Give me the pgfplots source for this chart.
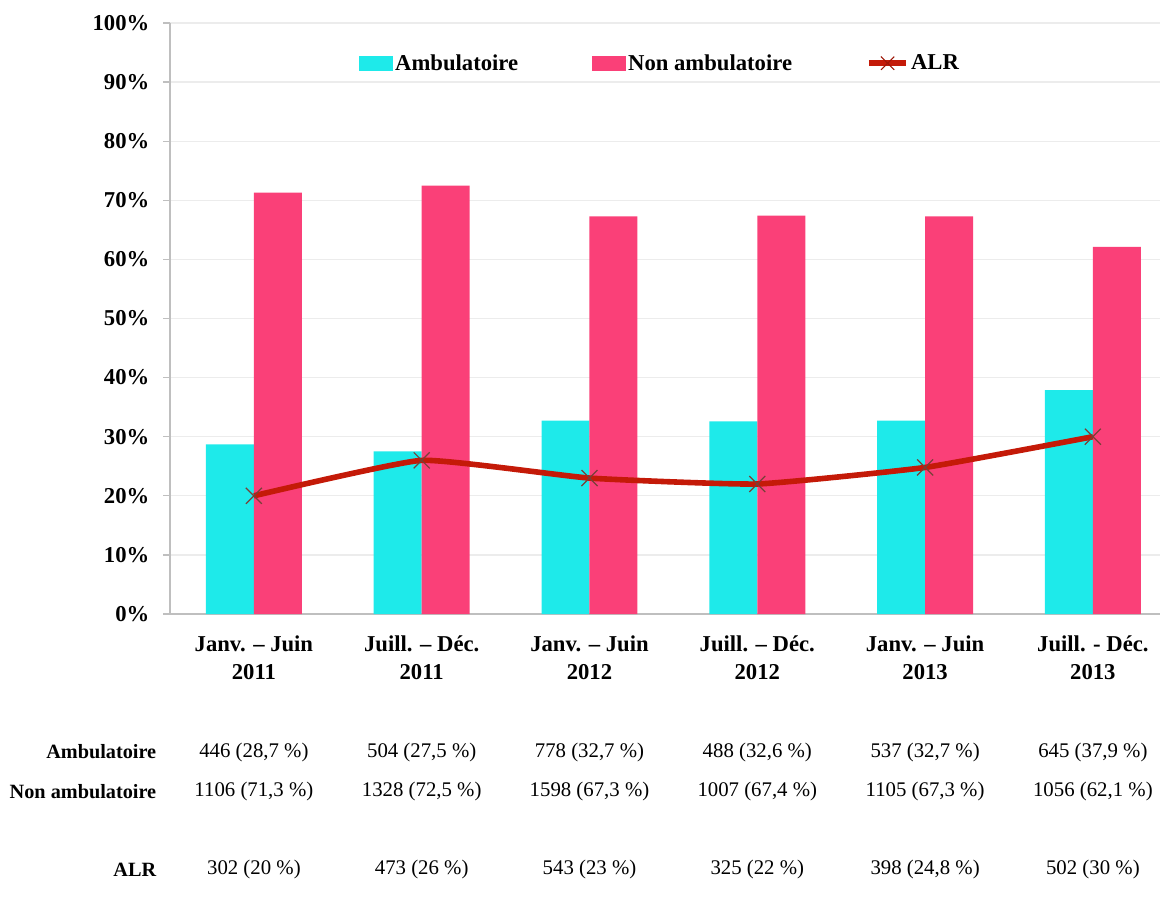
\documentclass[border=0pt]{standalone}
\usepackage{pgfplots}
\pgfplotsset{compat=1.18}
\usepackage{pgfplotstable}
\usepackage{fontspec}
\setmainfont{Liberation Serif}
\usetikzlibrary{calc}
\definecolor{ambu}{RGB}{30,234,234}
\definecolor{nonambu}{RGB}{250,64,120}
\definecolor{alrred}{RGB}{196,26,8}
\definecolor{markgray}{RGB}{120,64,56}
\definecolor{axisgray}{RGB}{191,191,191}
\definecolor{gridgray}{RGB}{236,236,236}
\newcommand\fbig{\bfseries\fontsize{17}{20.5}\selectfont}
\newcommand\frow{\bfseries\fontsize{15.2}{18}\selectfont}
\newcommand\fval{\fontsize{15.6}{18}\selectfont}
\pgfplotstableread{
x ambu non alr
0 28.7 71.3 20
1 27.5 72.5 26
2 32.7 67.3 23
3 32.6 67.4 22
4 32.7 67.3 24.8
5 37.9 62.1 30
}\data
\begin{document}
\begin{tikzpicture}
\begin{axis}[
  scale only axis, width=742.5pt, height=443.25pt,
  xmin=-0.5, xmax=5.4, ymin=0, ymax=100,
  axis lines*=left,
  axis line style={draw=axisgray, line width=1.2pt},
  xtick={0,...,5},
  xticklabels={{Janv. – Juin\\2011},{Juill. – Déc.\\2011},{Janv. – Juin\\2012},{Juill. – Déc.\\2012},{Janv. – Juin\\2013},{Juill. - Déc.\\2013}},
  xtick style={draw=none},
  xticklabel style={font=\fbig, align=center, yshift=-8pt},
  ytick={0,10,...,100},
  ytick style={draw=axisgray, line width=1pt},
  tick align=outside, major tick length=5pt,
  ymajorgrids, grid style={draw=gridgray, line width=1pt},
  /pgf/number format/assume math mode=true,
  yticklabel={\pgfmathprintnumber{\tick}\%},
  yticklabel style={font=\fbig, xshift=-7pt},
  clip=false,
  legend columns=3,
  legend style={at={(rel axis cs:0.495,0.932)}, anchor=center, draw=none, fill=none,
    font=\fbig, /tikz/every even column/.append style={column sep=54pt},
    nodes={inner xsep=1.5pt},
    inner sep=0pt},
  legend cell align=left,
]
\addplot[ybar, bar width=0.286, bar shift=-0.143, fill=ambu, draw=none,
  legend image code/.code={\fill[ambu] (0pt,-5.6pt) rectangle (25.5pt,5.6pt);}]
  table[x=x, y=ambu]{\data};
\addlegendentry{Ambulatoire}
\addplot[ybar, bar width=0.286, bar shift=0.143, fill=nonambu, draw=none,
  legend image code/.code={\fill[nonambu] (0pt,-5.6pt) rectangle (25.5pt,5.6pt);}]
  table[x=x, y=non]{\data};
\addlegendentry{Non ambulatoire}
\addplot[smooth, tension=0.25, color=alrred, line width=4.2pt, mark=x,
  mark size=8.5pt, mark options={draw=markgray, line width=0.9pt},
  legend image code/.code={\draw[color=alrred, line width=4.2pt] (0pt,0pt) -- (28pt,0pt);
    \draw[draw=alrred!80!black, line width=0.8pt] (9pt,-5pt) -- (19pt,5pt) (9pt,5pt) -- (19pt,-5pt);}]
  table[x=x, y=alr]{\data};
\addlegendentry{ALR}
\coordinate (O) at (rel axis cs:0,0);
% table below the chart
\node[anchor=east, font=\frow] at (axis cs:-0.554,-23.35) {Ambulatoire};
\node[anchor=east, font=\frow] at (axis cs:-0.554,-30.1) {Non ambulatoire};
\node[anchor=east, font=\frow] at (axis cs:-0.554,-43.3) {ALR};
\node[font=\fval] at (axis cs:0,-23.35) {446 (28,7 \%)};
\node[font=\fval] at (axis cs:1,-23.35) {504 (27,5 \%)};
\node[font=\fval] at (axis cs:2,-23.35) {778 (32,7 \%)};
\node[font=\fval] at (axis cs:3,-23.35) {488 (32,6 \%)};
\node[font=\fval] at (axis cs:4,-23.35) {537 (32,7 \%)};
\node[font=\fval] at (axis cs:5,-23.35) {645 (37,9 \%)};
\node[font=\fval] at (axis cs:0,-30.1) {1106 (71,3 \%)};
\node[font=\fval] at (axis cs:1,-30.1) {1328 (72,5 \%)};
\node[font=\fval] at (axis cs:2,-30.1) {1598 (67,3 \%)};
\node[font=\fval] at (axis cs:3,-30.1) {1007 (67,4 \%)};
\node[font=\fval] at (axis cs:4,-30.1) {1105 (67,3 \%)};
\node[font=\fval] at (axis cs:5,-30.1) {1056 (62,1 \%)};
\node[font=\fval] at (axis cs:0,-43.3) {302 (20 \%)};
\node[font=\fval] at (axis cs:1,-43.3) {473 (26 \%)};
\node[font=\fval] at (axis cs:2,-43.3) {543 (23 \%)};
\node[font=\fval] at (axis cs:3,-43.3) {325 (22 \%)};
\node[font=\fval] at (axis cs:4,-43.3) {398 (24,8 \%)};
\node[font=\fval] at (axis cs:5,-43.3) {502 (30 \%)};
\end{axis}
\pgfresetboundingbox
\path ($(O)+(-127.5pt,-212.25pt)$) rectangle ++(874.5pt,672.75pt);
\end{tikzpicture}
\end{document}
